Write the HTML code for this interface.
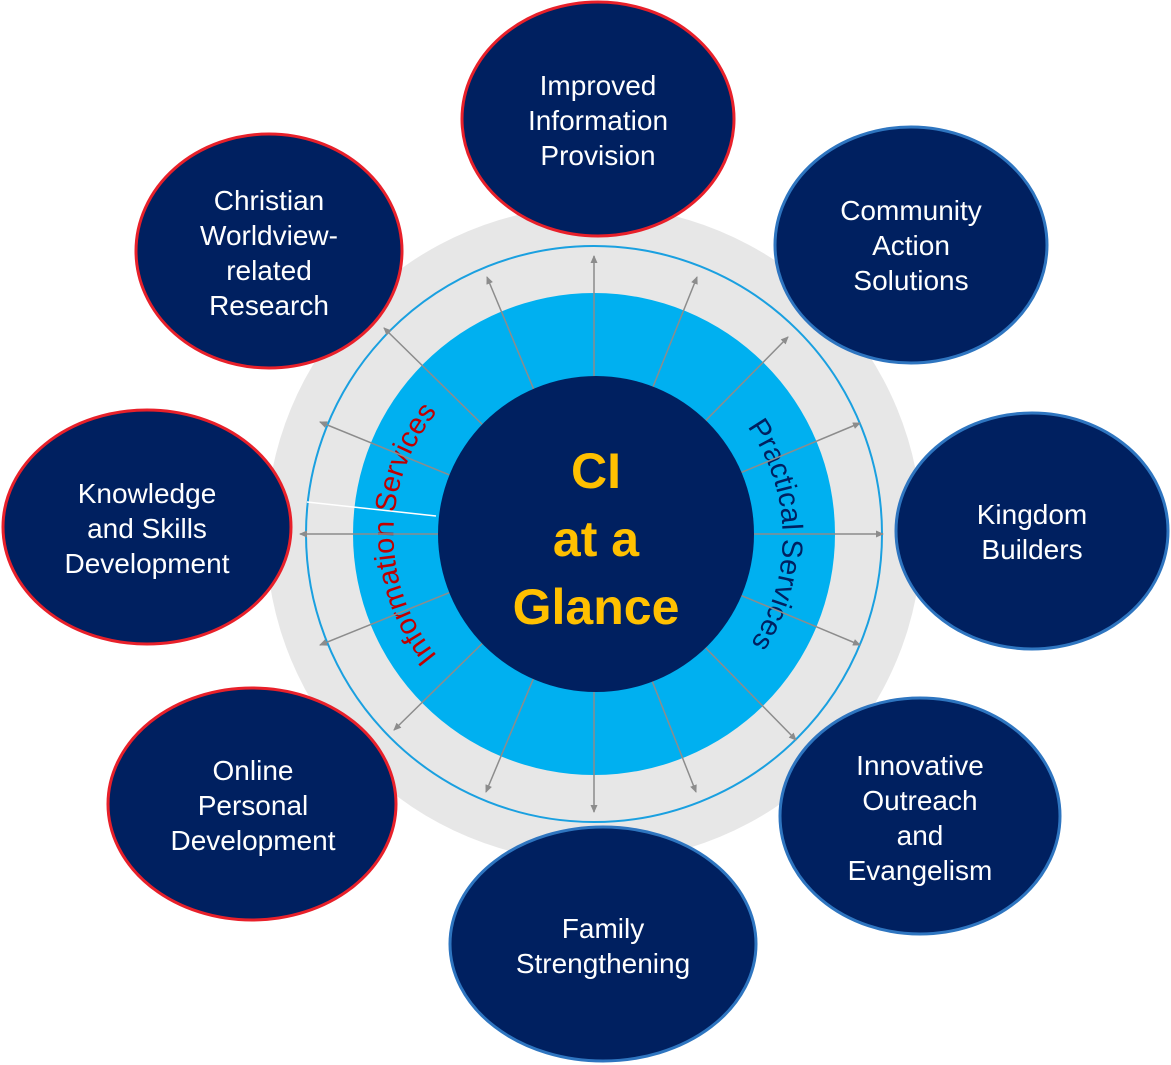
<!DOCTYPE html>
<html><head><meta charset="utf-8"><style>
html,body{margin:0;padding:0;background:#fff;}
svg{display:block;}
</style></head><body>
<svg width="1171" height="1065" viewBox="0 0 1171 1065" xmlns="http://www.w3.org/2000/svg" font-family="Liberation Sans, sans-serif">
<defs>
<marker id="ah" markerWidth="8" markerHeight="8" refX="7" refY="4" orient="auto" markerUnits="userSpaceOnUse">
<path d="M0,0.5 L8,4 L0,7.5 z" fill="#8c8c8c"/>
</marker>
<path id="pp" d="M728.3,403.9 A192,192 0 0 1 732.6,667"/>
<path id="ip" d="M452,672 A192,192 0 0 1 452,396"/>
</defs>
<circle cx="594" cy="534" r="328" fill="#e7e7e7"/>
<circle cx="594" cy="534" r="288" fill="none" stroke="#1aa0e0" stroke-width="2"/>
<circle cx="594" cy="534" r="241" fill="#00b0f0"/>
<text font-size="29" fill="#c00000"><textPath href="#ip" startOffset="50%" text-anchor="middle">Information Services</textPath></text>
<text font-size="29" fill="#002060"><textPath href="#pp" startOffset="50%" text-anchor="middle">Practical Services</textPath></text>
<g stroke="#8c8c8c" stroke-width="1.5" marker-end="url(#ah)">
<line x1="594" y1="534" x2="594" y2="256"/>
<line x1="594" y1="534" x2="487" y2="277"/>
<line x1="594" y1="534" x2="697" y2="277"/>
<line x1="594" y1="534" x2="788" y2="337"/>
<line x1="594" y1="534" x2="384" y2="328"/>
<line x1="594" y1="534" x2="860" y2="423"/>
<line x1="594" y1="534" x2="320" y2="422"/>
<line x1="594" y1="534" x2="883" y2="534"/>
<line x1="594" y1="534" x2="300" y2="534"/>
<line x1="594" y1="534" x2="860" y2="645"/>
<line x1="594" y1="534" x2="320" y2="645"/>
<line x1="594" y1="534" x2="394" y2="730"/>
<line x1="594" y1="534" x2="796" y2="740"/>
<line x1="594" y1="534" x2="486" y2="792"/>
<line x1="594" y1="534" x2="594" y2="812"/>
<line x1="594" y1="534" x2="696" y2="792"/>
</g>
<line x1="307" y1="502" x2="436" y2="516" stroke="#fff" stroke-width="1.5"/>
<circle cx="596" cy="534" r="158" fill="#002060"/>
<g fill="#ffc000" font-size="50" font-weight="bold" text-anchor="middle">
<text x="596" y="488">CI</text>
<text x="596" y="556">at a</text>
<text x="596" y="624">Glance</text>
</g>
<g fill="#002060" stroke-width="3">
<ellipse cx="598" cy="119" rx="136" ry="117" stroke="#e8202a"/>
<ellipse cx="269" cy="251" rx="133" ry="117" stroke="#e8202a"/>
<ellipse cx="147" cy="527" rx="144" ry="117" stroke="#e8202a"/>
<ellipse cx="252" cy="804" rx="144" ry="116" stroke="#e8202a"/>
<ellipse cx="603" cy="944" rx="153" ry="117" stroke="#2e75c0"/>
<ellipse cx="920" cy="816" rx="140" ry="118" stroke="#2e75c0"/>
<ellipse cx="1032" cy="531" rx="136" ry="118" stroke="#2e75c0"/>
<ellipse cx="911" cy="245" rx="136" ry="118" stroke="#2e75c0"/>
</g>
<g fill="#fff" font-size="28" text-anchor="middle">
<text x="598" y="95">Improved</text><text x="598" y="130">Information</text><text x="598" y="165">Provision</text>
<text x="269" y="210">Christian</text><text x="269" y="245">Worldview-</text><text x="269" y="280">related</text><text x="269" y="315">Research</text>
<text x="147" y="503">Knowledge</text><text x="147" y="538">and Skills</text><text x="147" y="573">Development</text>
<text x="253" y="780">Online</text><text x="253" y="815">Personal</text><text x="253" y="850">Development</text>
<text x="603" y="938">Family</text><text x="603" y="973">Strengthening</text>
<text x="920" y="775">Innovative</text><text x="920" y="810">Outreach</text><text x="920" y="845">and</text><text x="920" y="880">Evangelism</text>
<text x="1032" y="524">Kingdom</text><text x="1032" y="559">Builders</text>
<text x="911" y="220">Community</text><text x="911" y="255">Action</text><text x="911" y="290">Solutions</text>
</g>
</svg>
</body></html>
